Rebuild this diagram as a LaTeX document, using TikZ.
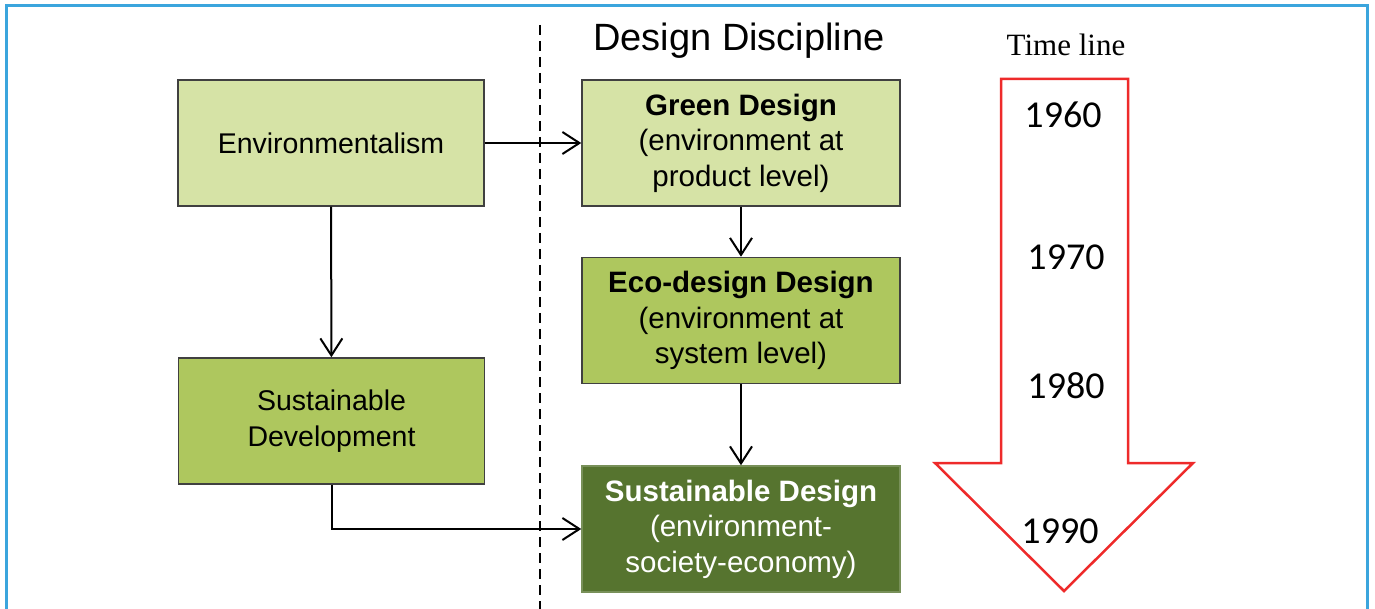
\documentclass[tikz,border=0pt]{standalone}
\usepackage{fontspec}
\setmainfont{Liberation Serif}
\setsansfont{Liberation Sans}
\newfontfamily\yearfont{Carlito}
\usetikzlibrary{arrows.meta}
\usetikzlibrary{calc}
\usepackage{xcolor}

\definecolor{framebl}{HTML}{3BA5DD}
\definecolor{lightgr}{HTML}{D6E3A6}
\definecolor{midgr}{HTML}{AEC75E}
\definecolor{darkgr}{HTML}{56742F}
\definecolor{timered}{HTML}{EE2A2A}

\tikzset{
  stagebox/.style={draw=black!75,line width=1.5pt,minimum width=306pt,minimum height=126pt,
    align=center,inner sep=0pt,font=\sffamily\fontsize{28.5}{35.5}\selectfont},
  discbox/.style={stagebox,minimum width=318pt,font=\sffamily\fontsize{29.5}{35.5}\selectfont},
  year/.style={font=\yearfont\fontsize{38}{38}\selectfont,inner sep=0pt}
}

\begin{document}
\begin{tikzpicture}[x=1pt,y=-1pt,>={Straight Barb[length=17pt,width=22pt]}]
		
		\useasboundingbox (0,0) rectangle (1375,609);
		
		% Frame
		\draw[framebl,line width=3pt] (6,615) -- (6,6) -- (1367,6) -- (1367,615);
		
		% Divider
		\draw[line width=2pt,dash pattern=on 10pt off 6pt] (540,25) -- (540,612);
		
		% Titles
		\node[font=\sffamily\fontsize{38}{38}\selectfont] (disc) at (739,41) {Design Discipline};
		\node[font=\rmfamily\fontsize{31}{31}\selectfont] (tline) at (1066,45) {Time line};
		
		% Boxes
		\node[stagebox,fill=lightgr] (env) at (331,143) {Environmentalism};
		\node[stagebox,fill=midgr] (susdev) at (331.5,421) {Sustainable\\Development};
		\node[discbox,fill=lightgr] (green) at (741,143) {\textbf{Green Design}\\(environment at\\product level)};
		\node[discbox,fill=midgr] (eco) at (741,320.5) {\textbf{Eco-design Design}\\(environment at\\system level)};
		\node[discbox,fill=darkgr,draw=darkgr!80!white,text=white] (susdes) at (741,529)
			{\textbf{Sustainable Design}\\(environment-\\society-economy)};
		
		% Links
		\draw[->,line width=2pt] (env) -- (green);
		\draw[->,line width=2pt] (env) -- (susdev);
		\draw[->,line width=2pt] (green) -- (eco);
		\draw[->,line width=2pt] (eco) -- (susdes);
		\draw[->,line width=2pt] (susdev.south) |- (susdes.west);
		
		% Time arrow
		\draw[timered,line width=2.5pt,line join=miter]
			(1001,79) -- (1128,79) -- (1128,463) -- (1193,463) -- (1064,591)
			-- (935,463) -- (1001,463) -- cycle;
		
		\node[year] (y60) at (1063,115) {1960};
		\node[year] (y70) at (1066,257) {1970};
		\node[year] (y80) at (1066,386) {1980};
		\node[year] (y90) at (1060,531) {1990};
		
	\end{tikzpicture}
\end{document}
